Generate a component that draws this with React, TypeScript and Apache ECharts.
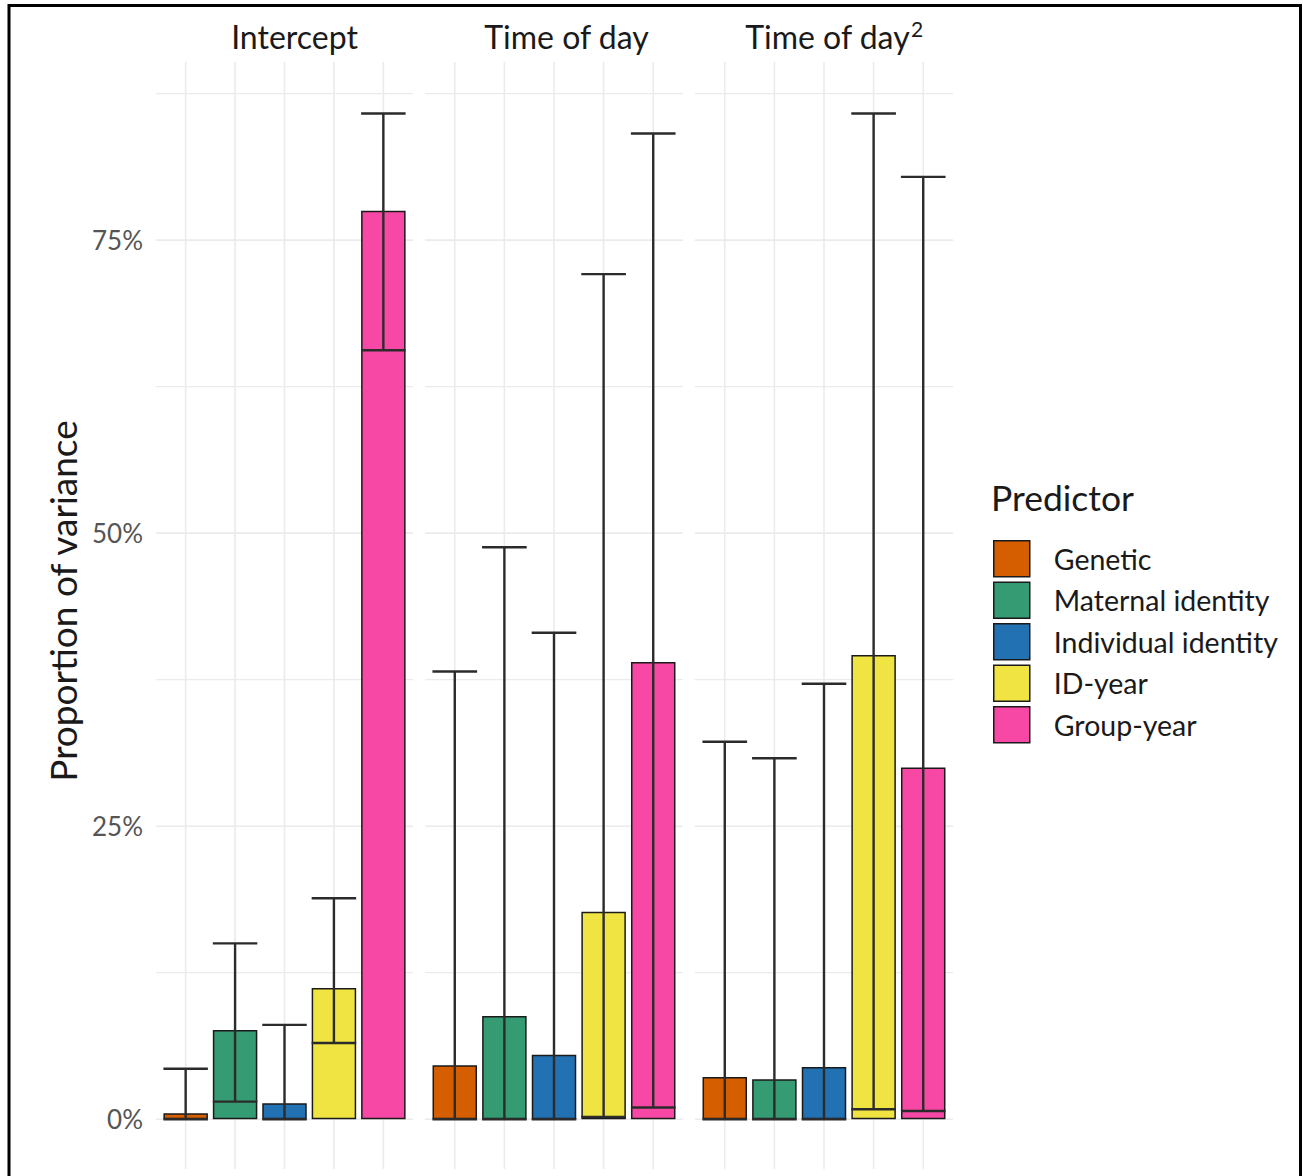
import React, { useEffect, useRef } from "react";
import * as echarts from "echarts";

const panels = ["Intercept", "Time of day", "Time of day²"];
const predictors = ["Genetic", "Maternal identity", "Individual identity", "ID-year", "Group-year"];
const colors = ["#D55E00", "#359B73", "#2271B2", "#F0E442", "#F748A5"];

// values in % (rows: panels, columns: predictors)
const estimates = [
  [0.5, 7.6, 1.35, 11.2, 77.5],
  [4.6, 8.8, 5.5, 17.7, 39.0],
  [3.6, 3.4, 4.45, 39.6, 30.0],
];
const lowerCI = [
  [0, 1.5, 0, 6.5, 65.6],
  [0, 0, 0, 0.2, 1.0],
  [0, 0, 0, 0.85, 0.7],
];
const upperCI = [
  [4.3, 15.0, 8.05, 18.85, 85.8],
  [38.2, 48.8, 41.5, 72.1, 84.1],
  [32.2, 30.8, 37.15, 85.8, 80.4],
];
const yTickLabels = [0, 25, 50, 75];
const majorGrid = [0, 25, 50, 75];
const minorGrid = [12.5, 37.5, 62.5, 87.5];

const FONT = "Lato";

export default function App() {
  const ref = useRef<HTMLDivElement>(null);

  useEffect(() => {
    if (!ref.current) return;
    const chart = echarts.init(ref.current, null, { renderer: "svg" });

    const gridDefs = [
      { left: 156, width: 257 },
      { left: 425, width: 258 },
      { left: 695, width: 258 },
    ];
    const top = 62;
    const height = 1107;

    const grid = gridDefs.map((g) => ({ left: g.left, width: g.width, top, height, containLabel: false }));
    const xAxis = gridDefs.map((_, i) => ({
      type: "value",
      gridIndex: i,
      min: 0.4,
      max: 5.6,
      show: false,
    }));
    const yAxis = gridDefs.map((_, i) => ({
      type: "value",
      gridIndex: i,
      min: -4.25,
      max: 90.2,
      axisLine: { show: false },
      axisTick: { show: false },
      splitLine: { show: false },
      axisLabel: {
        show: i === 0,
        customValues: yTickLabels,
        formatter: (v: number) => `${v}%`,
        fontSize: 26,
        fontFamily: FONT,
        color: "#555555",
        margin: 13,
      },
    }));

    const series: any[] = [];
    panels.forEach((_, p) => {
      // horizontal grid lines
      series.push({
        type: "custom",
        xAxisIndex: p,
        yAxisIndex: p,
        silent: true,
        z: 0,
        encode: { y: 0 },
        data: [...majorGrid.map((v) => [v, 1]), ...minorGrid.map((v) => [v, 0])],
        renderItem: (params: any, api: any) => {
          const cs = params.coordSys;
          const y = api.coord([1, api.value(0)])[1];
          return {
            type: "line",
            shape: { x1: cs.x, y1: y, x2: cs.x + cs.width, y2: y },
            style: { stroke: "#EBEBEB", lineWidth: api.value(1) ? 1.6 : 1.2 },
          };
        },
      });
      // vertical grid lines
      series.push({
        type: "custom",
        xAxisIndex: p,
        yAxisIndex: p,
        silent: true,
        z: 0,
        encode: { x: 0 },
        data: predictors.map((_, j) => [j + 1]),
        renderItem: (params: any, api: any) => {
          const cs = params.coordSys;
          const x = api.coord([api.value(0), 0])[0];
          return {
            type: "line",
            shape: { x1: x, y1: cs.y, x2: x, y2: cs.y + cs.height },
            style: { stroke: "#EBEBEB", lineWidth: 1.6 },
          };
        },
      });
      // bars
      predictors.forEach((name, j) => {
        series.push({
          type: "bar",
          name,
          xAxisIndex: p,
          yAxisIndex: p,
          barWidth: 44.5,
          barGap: "-100%",
          z: 2,
          itemStyle: { color: colors[j], borderColor: "#1A1A1A", borderWidth: 1.5 },
          data: [[j + 1, estimates[p][j]]],
        });
      });
      // error bars
      series.push({
        type: "custom",
        xAxisIndex: p,
        yAxisIndex: p,
        silent: true,
        z: 3,
        encode: { x: 0, y: [1, 2] },
        data: predictors.map((_, j) => [j + 1, lowerCI[p][j], upperCI[p][j]]),
        renderItem: (params: any, api: any) => {
          const x = api.value(0);
          const lo = api.coord([x, api.value(1)]);
          const hi = api.coord([x, api.value(2)]);
          const hw = api.size([0.9, 0])[0] / 2;
          const st = { stroke: "#2B2B2B", lineWidth: 2.4 };
          return {
            type: "group",
            children: [
              { type: "line", shape: { x1: hi[0], y1: lo[1], x2: hi[0], y2: hi[1] }, style: st },
              { type: "line", shape: { x1: hi[0] - hw, y1: hi[1], x2: hi[0] + hw, y2: hi[1] }, style: st },
              { type: "line", shape: { x1: lo[0] - hw, y1: lo[1], x2: lo[0] + hw, y2: lo[1] }, style: st },
            ],
          };
        },
      });
    });

    const stripCenters = [294.5, 566.5, 834];
    const stripText = (t: string) => {
      if (t.endsWith("²")) return `{a|${t.slice(0, -1)}}{b|2}`;
      return `{a|${t}}`;
    };

    const option: any = {
      animation: false,
      backgroundColor: "#FFFFFF",
      grid,
      xAxis,
      yAxis,
      series,
      legend: {
        orient: "vertical",
        left: 993,
        top: 540,
        padding: 0,
        itemWidth: 36,
        itemHeight: 36,
        itemGap: 4,
        selectedMode: false,
        icon: "rect",
        textStyle: {
          fontFamily: FONT,
          fontSize: 28.5,
          color: "#1A1A1A",
          lineHeight: 34,
          padding: [0, 0, 0, 19],
        },
        data: predictors.map((name, j) => ({
          name,
          itemStyle: { color: colors[j], borderColor: "#1A1A1A", borderWidth: 1.5 },
        })),
      },
      graphic: [
        {
          type: "rect",
          silent: true,
          shape: { x: 9, y: 5.5, width: 1291.5, height: 1300 },
          style: { fill: "none", stroke: "#000000", lineWidth: 3 },
        },
        ...panels.map((t, i) => ({
          type: "text",
          x: stripCenters[i],
          y: 33,
          style: {
            text: stripText(t),
            textAlign: "center",
            textVerticalAlign: "middle",
            rich: {
              a: { fontFamily: FONT, fontSize: 32, fill: "#1A1A1A", lineHeight: 38, verticalAlign: "bottom" },
              b: {
                fontFamily: FONT,
                fontSize: 21,
                fill: "#1A1A1A",
                lineHeight: 21,
                verticalAlign: "top",
                padding: [4, 0, 0, 1],
              },
            },
          },
        })),
        {
          type: "text",
          x: 62,
          y: 601,
          rotation: Math.PI / 2,
          style: {
            text: "Proportion of variance",
            fontFamily: FONT,
            fontSize: 37,
            fill: "#1A1A1A",
            textAlign: "center",
            textVerticalAlign: "middle",
          },
        },
        {
          type: "text",
          x: 991,
          y: 497,
          style: {
            text: "Predictor",
            fontFamily: FONT,
            fontSize: 35.5,
            fill: "#1A1A1A",
            textAlign: "left",
            textVerticalAlign: "middle",
          },
        },
      ],
    };

    chart.setOption(option);
    return () => chart.dispose();
  }, []);

  return (
    <div
      ref={ref}
      style={{ position: "absolute", left: 0, top: 0, width: 1303, height: 1176, background: "#fff" }}
    />
  );
}
